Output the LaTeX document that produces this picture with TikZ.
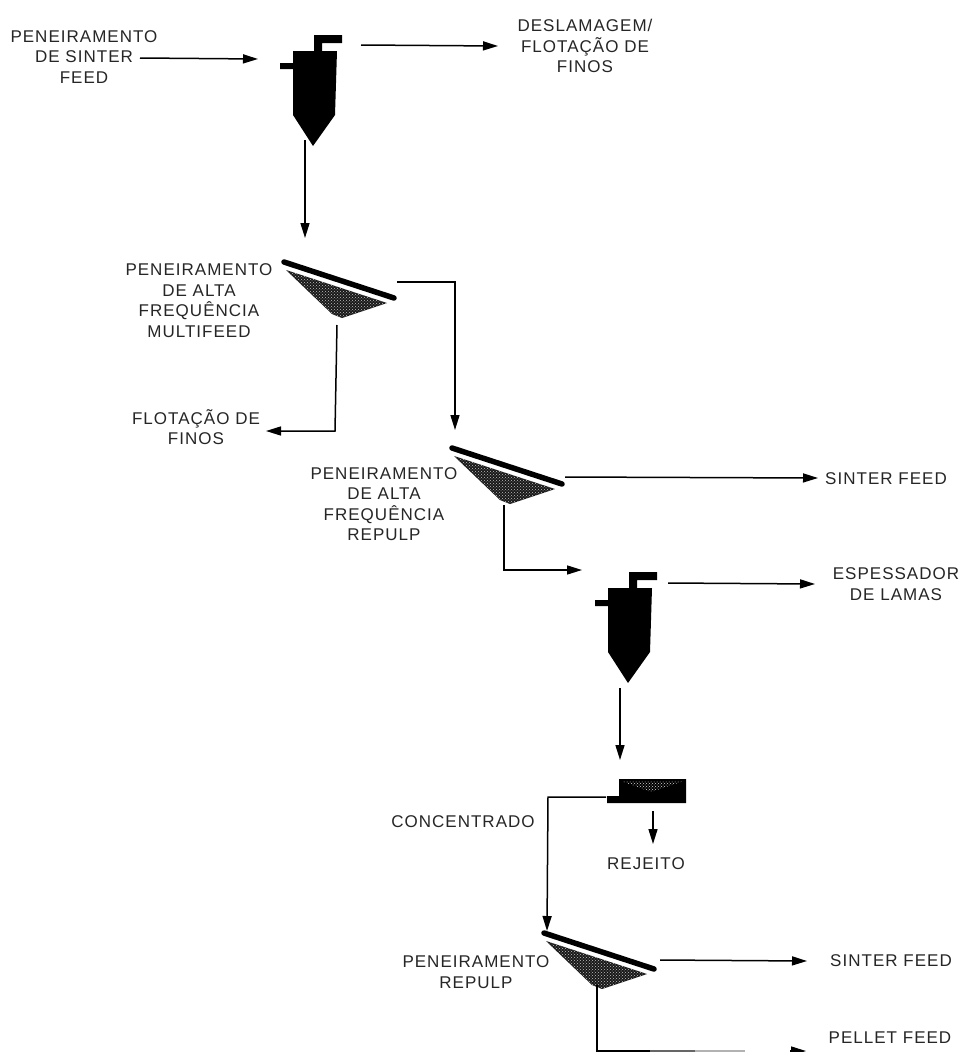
\documentclass[tikz,border=0pt]{standalone}
\usepackage{fontspec}
\setmainfont[LetterSpace=6]{Liberation Sans}
\usetikzlibrary{arrows.meta,patterns}
\tikzset{
  lbl/.style={align=center,inner sep=0pt,font=\fontsize{17}{20.5}\selectfont,text=black!85},
  flow/.style={line width=1.5pt,-{Triangle[length=15pt,width=9pt]}},
  plainflow/.style={line width=1.5pt},
  barre/.style={line width=5.5pt,line cap=round},
  hopper/.style={preaction={fill=black!90},pattern=crosshatch dots,pattern color=white!75!black},
}
\newcommand{\cyclone}[1]{%
  \begin{scope}[shift={(#1)}]
    \fill[black] (293,51) -- (314,51) -- (314,35) -- (342,35) -- (342,43) -- (322,43) -- (322,51)
      -- (337,51) -- (335,115) -- (313,146) -- (293,115) -- (293,69) -- (280,69) -- (280,63) -- (293,63) -- cycle;
  \end{scope}}
\newcommand{\sievescreen}[1]{%
  \begin{scope}[shift={(#1)}]
    \draw[barre] (284,262) -- (394,298);
    \draw[hopper,draw=none] (286,270) -- (387,303) -- (342,318) -- (332,314) -- cycle;
  \end{scope}}
\begin{document}
\begin{tikzpicture}[x=1pt,y=-1pt]
\useasboundingbox (0,0) rectangle (962,1052);
\fill[white] (0,0) rectangle (962,1052);

% equipment
\cyclone{0,0}
\cyclone{315,537}
\sievescreen{0,0}
\sievescreen{168,186}
\sievescreen{260,671}
\fill[black] (619,779) -- (686,779) -- (686,803) -- (607,803) -- (607,796) -- (619,796) -- cycle;
\fill[pattern=crosshatch dots,pattern color=white!85!black] (621,781) -- (684,781) -- (651,792) -- cycle;

% anchors on the equipment
\coordinate (feedin) at (140,58);
\coordinate (cain) at (258,59);
\coordinate (caout) at (361,45);
\coordinate (caoutend) at (498,46);
\coordinate (catip) at (305,140);
\coordinate (saIn) at (305,238);
\coordinate (saR) at (397,282);
\coordinate (saRc) at (455,282);
\coordinate (sbIn) at (455,430);
\coordinate (saD) at (337,325);
\coordinate (saDc) at (335,431);
\coordinate (saE) at (266,431);
\coordinate (sbR) at (565,477);
\coordinate (sbE) at (818,478);
\coordinate (sbD) at (504,505);
\coordinate (sbDc) at (504,570);
\coordinate (cbIn) at (582,570);
\coordinate (cbOut) at (668,583);
\coordinate (cbE) at (815,584);
\coordinate (cbTip) at (620,688);
\coordinate (thIn) at (620,760);
\coordinate (thL) at (606,797);
\coordinate (thLc) at (548,797);
\coordinate (scIn) at (547,931);
\coordinate (thD) at (653,811);
\coordinate (thDe) at (653,844);
\coordinate (scR) at (660,960);
\coordinate (scE) at (807,961);
\coordinate (scD) at (597,985);
\coordinate (scDc) at (597,1051);
\coordinate (g1) at (650,1051);
\coordinate (g2) at (695,1051);
\coordinate (g3) at (745,1051);
\coordinate (pfEnd) at (806,1051);
\coordinate (pfTail) at (790,1051);

% labels
\node[lbl] (t1) at (84,57) {PENEIRAMENTO\\DE SINTER\\FEED};
\node[lbl] (t2) at (585,46) {DESLAMAGEM/\\FLOTAÇÃO DE\\FINOS};
\node[lbl] (t3) at (199,300.5) {PENEIRAMENTO\\DE ALTA\\FREQUÊNCIA\\MULTIFEED};
\node[lbl] (t4) at (196,427) {FLOTAÇÃO DE\\FINOS};
\node[lbl] (t5) at (384,504) {PENEIRAMENTO\\DE ALTA\\FREQUÊNCIA\\REPULP};
\node[lbl] (t6) at (886,479) {SINTER FEED};
\node[lbl] (t7) at (896,584) {ESPESSADOR\\DE LAMAS};
\node[lbl] (t8) at (463,822) {CONCENTRADO};
\node[lbl] (t9) at (646,864) {REJEITO};
\node[lbl] (t10) at (476,972) {PENEIRAMENTO\\REPULP};
\node[lbl] (t11) at (891,961) {SINTER FEED};
\node[lbl] (t12) at (890,1038) {PELLET FEED};

% connectors
\draw[flow] (feedin) -- (cain);
\draw[flow] (caout) -- (caoutend);
\draw[flow] (catip) -- (saIn);
\draw[flow] (saR) -- (saRc) -- (sbIn);
\draw[flow] (saD) -- (saDc) -- (saE);
\draw[flow] (sbR) -- (sbE);
\draw[flow] (sbD) -- (sbDc) -- (cbIn);
\draw[flow] (cbOut) -- (cbE);
\draw[flow] (cbTip) -- (thIn);
\draw[flow] (thL) -- (thLc) -- (scIn);
\draw[flow] (thD) -- (thDe);
\draw[flow] (scR) -- (scE);
\draw[plainflow] (scD) -- (scDc) -- (g1);
\draw[line width=1.5pt,black!60] (g1) -- (g2);
\draw[line width=1.5pt,black!30] (g2) -- (g3);
\draw[flow] (pfTail) -- (pfEnd);
\end{tikzpicture}
\end{document}
